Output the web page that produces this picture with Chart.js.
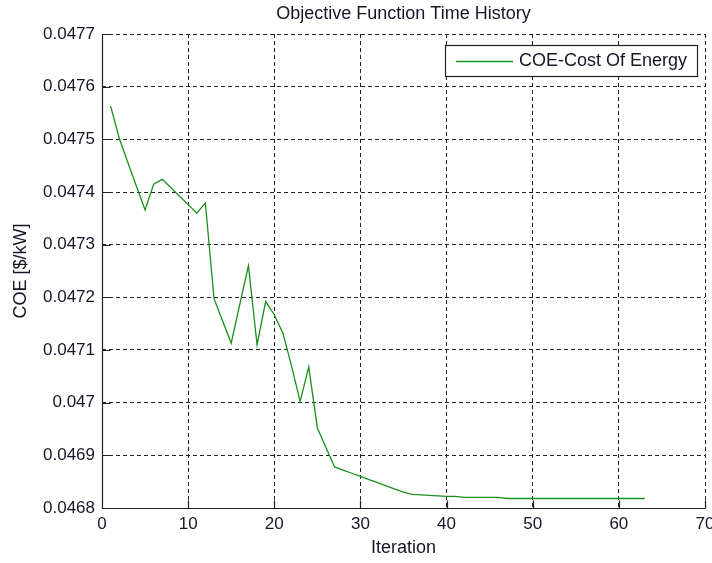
<!DOCTYPE html>
<html>
<head>
<meta charset="utf-8">
<title>Objective Function Time History</title>
<script src="https://cdn.jsdelivr.net/npm/chart.js@4.4.1/dist/chart.umd.min.js"></script>
<style>
  html, body { margin: 0; padding: 0; background: #ffffff; }
  canvas { display: block; }
</style>
</head>
<body>
<canvas id="coeChart" width="712" height="563"></canvas>
<script>
// Optimizer iterations and the cost of energy reached at each one
const iterations = [
  1, 2, 3, 4, 5, 6, 7, 8, 9, 10,
  11, 12, 13, 14, 15, 16, 17, 18, 19, 20,
  21, 22, 23, 24, 25, 26, 27, 28, 29, 30,
  31, 32, 33, 34, 35, 36, 37, 38, 39, 40,
  41, 42, 43, 44, 45, 46, 47, 48, 49, 50,
  51, 52, 53, 54, 55, 56, 57, 58, 59, 60,
  61, 62, 63
];
const coe = [
  0.047563, 0.047502, 0.047456, 0.047411, 0.047366, 0.047415, 0.047424, 0.047408, 0.047392, 0.047376,
  0.047360, 0.047379, 0.047198, 0.047155, 0.047113, 0.047187, 0.047260, 0.047110, 0.047192, 0.047167,
  0.047132, 0.047070, 0.047002, 0.047068, 0.046952, 0.046915, 0.046878, 0.046872, 0.046866, 0.046860,
  0.046854, 0.046848, 0.046842, 0.046836, 0.046830, 0.046826, 0.046825, 0.046824, 0.046823, 0.046822,
  0.046822, 0.046820, 0.046820, 0.046820, 0.046820, 0.046820, 0.046818, 0.046818, 0.046818, 0.046818,
  0.046818, 0.046818, 0.046818, 0.046818, 0.046818, 0.046818, 0.046818, 0.046818, 0.046818, 0.046818,
  0.046818, 0.046818, 0.046818
];

// Axis tick positions
const xTickValues = [0, 10, 20, 30, 40, 50, 60, 70];
const yTickValues = [0.0468, 0.0469, 0.0470, 0.0471, 0.0472, 0.0473, 0.0474, 0.0475, 0.0476, 0.0477];

// Texts
const chartTitle = 'Objective Function Time History';
const seriesLabel = 'COE-Cost Of Energy';
const xAxisTitle = 'Iteration';
const yAxisTitle = 'COE [$/kW]';

const FONT = '"Liberation Sans", Arial, Helvetica, sans-serif';
const TEXT_COLOR = '#161628';
const LINE_COLOR = '#1a901a';

// Solid left/bottom axes with inward ticks, title and boxed legend
const axesAndLegend = {
  id: 'axesAndLegend',
  afterDraw(chart) {
    const { ctx, chartArea: a, scales } = chart;
    ctx.save();

    const left = Math.round(a.left) + 0.5;
    const bottom = Math.round(a.bottom) + 0.5;
    const tickLen = 8;
    ctx.strokeStyle = '#202020';
    ctx.lineWidth = 1.2;
    ctx.setLineDash([]);
    ctx.beginPath();
    // axis lines
    ctx.moveTo(left, Math.round(a.top) + 0.5);
    ctx.lineTo(left, bottom);
    ctx.lineTo(Math.round(a.right) + 0.5, bottom);
    // inward tick marks
    scales.x.ticks.forEach(t => {
      const px = Math.round(scales.x.getPixelForValue(t.value)) + 0.5;
      ctx.moveTo(px, bottom); ctx.lineTo(px, bottom - tickLen);
    });
    scales.y.ticks.forEach(t => {
      const py = Math.round(scales.y.getPixelForValue(t.value)) + 0.5;
      ctx.moveTo(left, py); ctx.lineTo(left + tickLen, py);
    });
    ctx.stroke();

    // title centred over the plot area
    ctx.fillStyle = TEXT_COLOR;
    ctx.font = '18px ' + FONT;
    ctx.textAlign = 'center';
    ctx.textBaseline = 'middle';
    ctx.fillText(chartTitle, (a.left + a.right) / 2, 14);

    // legend box in the upper right corner
    const ds = chart.data.datasets[0];
    ctx.font = '18px ' + FONT;
    const textW = ctx.measureText(ds.label).width;
    const boxRight = a.right - 8;
    const boxTop = a.top + 11;
    const boxH = 31;
    const boxW = 11 + 57 + 6 + textW + 10;
    const boxLeft = boxRight - boxW;
    ctx.fillStyle = '#ffffff';
    ctx.fillRect(boxLeft, boxTop, boxW, boxH);
    ctx.strokeStyle = '#202020';
    ctx.lineWidth = 1.2;
    ctx.strokeRect(Math.round(boxLeft) + 0.5, boxTop + 0.5, Math.round(boxW), boxH);
    const midY = boxTop + boxH / 2 + 1;
    ctx.strokeStyle = ds.borderColor;
    ctx.lineWidth = ds.borderWidth;
    ctx.beginPath();
    ctx.moveTo(boxLeft + 11, midY);
    ctx.lineTo(boxLeft + 68, midY);
    ctx.stroke();
    ctx.fillStyle = TEXT_COLOR;
    ctx.textAlign = 'left';
    ctx.textBaseline = 'middle';
    ctx.fillText(ds.label, boxLeft + 74, midY);

    ctx.restore();
  }
};

new Chart(document.getElementById('coeChart'), {
  type: 'line',
  data: {
    datasets: [{
      label: seriesLabel,
      data: iterations.map((it, i) => ({ x: it, y: coe[i] })),
      borderColor: LINE_COLOR,
      backgroundColor: LINE_COLOR,
      borderWidth: 1.3,
      pointRadius: 0,
      tension: 0,
      fill: false
    }]
  },
  options: {
    responsive: false,
    animation: false,
    devicePixelRatio: 1,
    layout: { padding: { left: 10, right: 7, top: 34, bottom: 4 } },
    plugins: {
      legend: { display: false },
      title: { display: false },
      tooltip: { enabled: false }
    },
    scales: {
      x: {
        type: 'linear',
        min: 0,
        max: 70,
        afterBuildTicks: s => { s.ticks = xTickValues.map(v => ({ value: v })); },
        afterFit: s => { s.height = 51; s.paddingLeft = 0; s.paddingRight = 0; },
        grid: { color: '#222', lineWidth: 1, drawTicks: false },
        border: { display: false, dash: [4, 3] },
        ticks: {
          padding: 6,
          color: TEXT_COLOR,
          font: { family: FONT, size: 17 },
          maxRotation: 0,
          callback: v => String(v)
        },
        title: {
          display: true,
          text: xAxisTitle,
          color: TEXT_COLOR,
          font: { family: FONT, size: 18 },
          padding: 0
        }
      },
      y: {
        type: 'linear',
        min: 0.0468,
        max: 0.0477,
        afterBuildTicks: s => { s.ticks = yTickValues.map(v => ({ value: v })); },
        afterFit: s => { s.width = 92; },
        grid: { color: '#222', lineWidth: 1, drawTicks: false },
        border: { display: false, dash: [4, 3] },
        ticks: {
          padding: 7,
          color: TEXT_COLOR,
          font: { family: FONT, size: 17 },
          callback: v => String(parseFloat(Number(v).toFixed(4)))
        },
        title: {
          display: true,
          text: yAxisTitle,
          color: TEXT_COLOR,
          font: { family: FONT, size: 18 },
          padding: 0
        }
      }
    }
  },
  plugins: [axesAndLegend]
});
</script>
</body>
</html>
